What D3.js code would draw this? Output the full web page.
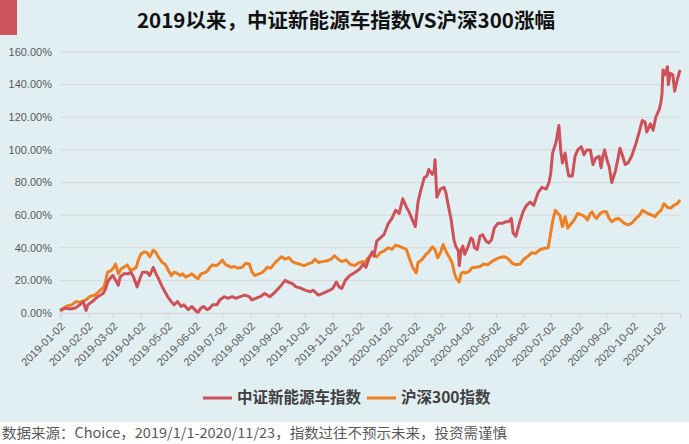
<!DOCTYPE html>
<html>
<head>
<meta charset="utf-8">
<script src="https://cdn.jsdelivr.net/npm/d3@7"></script>
<style>
  body { margin: 0; background: #fff; }
  text { font-family: "Liberation Sans", "Noto Sans CJK SC", sans-serif; }
  .cjk { font-family: "Noto Sans CJK SC", sans-serif; }
</style>
</head>
<body>
<div id="chart"></div>
<script>
var width = 689, height = 444;

var title = "2019以来，中证新能源车指数VS沪深300涨幅";
var source = "数据来源：Choice，2019/1/1-2020/11/23，指数过往不预示未来，投资需谨慎";
var seriesNames = ["中证新能源车指数", "沪深300指数"];
var colors = ["#cd5158", "#ef7f23"];

var yTicks = [0, 20, 40, 60, 80, 100, 120, 140, 160];
var xTickLabels = ["2019-01-02","2019-02-02","2019-03-02","2019-04-02","2019-05-02","2019-06-02",
  "2019-07-02","2019-08-02","2019-09-02","2019-10-02","2019-11-02","2019-12-02",
  "2020-01-02","2020-02-02","2020-03-02","2020-04-02","2020-05-02","2020-06-02",
  "2020-07-02","2020-08-02","2020-09-02","2020-10-02","2020-11-02"];

// 中证新能源车指数 (%)
var nevDates = ["2019-01-02","2019-01-08","2019-01-13","2019-01-19","2019-01-24","2019-01-28","2019-01-31","2019-02-02",
  "2019-02-07","2019-02-13","2019-02-19","2019-02-22","2019-02-24","2019-02-28","2019-03-02","2019-03-05","2019-03-08",
  "2019-03-10","2019-03-14","2019-03-19","2019-03-22","2019-03-25","2019-03-29","2019-04-01","2019-04-04","2019-04-09",
  "2019-04-12","2019-04-16","2019-04-19","2019-04-21","2019-04-26","2019-04-29","2019-05-02","2019-05-06","2019-05-09",
  "2019-05-13","2019-05-17","2019-05-20","2019-05-25","2019-05-29","2019-06-03","2019-06-05","2019-06-08","2019-06-11",
  "2019-06-15","2019-06-18","2019-06-21","2019-06-26","2019-06-29","2019-07-04","2019-07-08","2019-07-13","2019-07-17",
  "2019-07-22","2019-07-27","2019-08-01","2019-08-04","2019-08-08","2019-08-13","2019-08-18","2019-08-24","2019-08-30",
  "2019-09-04","2019-09-10","2019-09-13","2019-09-18","2019-09-22","2019-09-26","2019-10-02","2019-10-08","2019-10-11",
  "2019-10-17","2019-10-22","2019-10-28","2019-11-02","2019-11-06","2019-11-09","2019-11-12","2019-11-16","2019-11-21",
  "2019-11-27","2019-12-02","2019-12-06","2019-12-09","2019-12-12","2019-12-16","2019-12-18","2019-12-21","2019-12-25",
  "2019-12-29","2020-01-03","2020-01-07","2020-01-11","2020-01-15","2020-01-19","2020-01-23","2020-01-26","2020-01-29",
  "2020-02-02","2020-02-05","2020-02-08","2020-02-12","2020-02-15","2020-02-17","2020-02-21","2020-02-23","2020-02-24",
  "2020-02-26","2020-03-01","2020-03-05","2020-03-07","2020-03-09","2020-03-13","2020-03-16","2020-03-18","2020-03-21",
  "2020-03-22","2020-03-24","2020-03-26","2020-03-28","2020-04-01","2020-04-04","2020-04-06","2020-04-08","2020-04-11",
  "2020-04-14","2020-04-17","2020-04-21","2020-04-24","2020-04-27","2020-04-30","2020-05-04","2020-05-09","2020-05-13",
  "2020-05-16","2020-05-19","2020-05-21","2020-05-24","2020-05-28","2020-06-01","2020-06-05","2020-06-09","2020-06-13",
  "2020-06-18","2020-06-22","2020-06-27","2020-06-30","2020-07-02","2020-07-04","2020-07-08","2020-07-11","2020-07-13",
  "2020-07-15","2020-07-18","2020-07-20","2020-07-22","2020-07-26","2020-07-29","2020-08-01","2020-08-05","2020-08-08",
  "2020-08-11","2020-08-15","2020-08-18","2020-08-21","2020-08-25","2020-08-27","2020-08-29","2020-08-31","2020-09-03",
  "2020-09-05","2020-09-08","2020-09-12","2020-09-15","2020-09-17","2020-09-19","2020-09-23","2020-09-26","2020-09-30",
  "2020-10-05","2020-10-09","2020-10-12","2020-10-15","2020-10-17","2020-10-21","2020-10-24","2020-10-27","2020-10-31",
  "2020-11-02","2020-11-03","2020-11-04","2020-11-06","2020-11-09","2020-11-10","2020-11-12","2020-11-15","2020-11-17",
  "2020-11-20","2020-11-23"];
var nevValues = [1.5,3,2.5,3,5,7,1.5,5,
  7,10,12,15,19,22,23,20,17,
  22,24,24,25,22,16,21,25,25,
  23,28,24,22,16,13,10,7,5,
  7,4,5,2,4,1,0.5,3,4,
  2,3,5,5,8,10,9,10,9,
  10,11,10,8,9,10,12,10,13,
  16,20,19,18,16,15.5,14,13,14,
  11,12,13.5,15,19,16,15,20,23,
  25,27,30,28,33,37.5,35,44,46,
  48,55,58,63,61,70,65,62,58,
  53,68,75,83,84,88,85,87,94,
  71,76,77,74,68,57,45,41,38,
  29,39,41,36,41,46,45,40,39,
  47,48,44,43,45,52,55,55,56,
  56,58,49,47,55,62,66,68,66,
  74,77,76,80,86,98,105,115,100,
  92,98,90,84,84,96,100,102,97,
  100,100,91,95,96,89,96,100,93,
  90,80,87,95,101,98,91,92,96,
  104,112,118,117,111,116,112,120,125,
  130,135,149,146,151,140,147,146,136,
  143,149];

// 沪深300指数 (%)
var hsDates = ["2019-01-02","2019-01-06","2019-01-11","2019-01-15","2019-01-20","2019-01-24","2019-01-29","2019-02-01",
  "2019-02-04","2019-02-10","2019-02-16","2019-02-20","2019-02-22","2019-02-24","2019-02-28","2019-03-03","2019-03-05",
  "2019-03-08","2019-03-11","2019-03-14","2019-03-18","2019-03-21","2019-03-24","2019-03-28","2019-03-30","2019-04-02",
  "2019-04-06","2019-04-09","2019-04-12","2019-04-16","2019-04-19","2019-04-22","2019-04-26","2019-04-29","2019-05-02",
  "2019-05-06","2019-05-09","2019-05-12","2019-05-16","2019-05-19","2019-05-22","2019-05-26","2019-05-29","2019-06-02",
  "2019-06-05","2019-06-08","2019-06-11","2019-06-15","2019-06-18","2019-06-21","2019-06-25","2019-06-28","2019-07-02",
  "2019-07-05","2019-07-08","2019-07-12","2019-07-15","2019-07-19","2019-07-24","2019-07-28","2019-08-01","2019-08-04",
  "2019-08-07","2019-08-12","2019-08-16","2019-08-21","2019-08-25","2019-08-30","2019-09-03","2019-09-06","2019-09-10",
  "2019-09-14","2019-09-18","2019-09-22","2019-09-26","2019-10-01","2019-10-05","2019-10-10","2019-10-13","2019-10-17",
  "2019-10-21","2019-10-27","2019-10-31","2019-11-04","2019-11-08","2019-11-12","2019-11-17","2019-11-21","2019-11-26",
  "2019-11-30","2019-12-05","2019-12-08","2019-12-11","2019-12-15","2019-12-18","2019-12-21","2019-12-25","2019-12-29",
  "2020-01-03","2020-01-07","2020-01-11","2020-01-15","2020-01-19","2020-01-23","2020-01-27","2020-01-30","2020-02-03",
  "2020-02-05","2020-02-09","2020-02-14","2020-02-17","2020-02-21","2020-02-24","2020-02-27","2020-03-01","2020-03-04",
  "2020-03-07","2020-03-11","2020-03-14","2020-03-17","2020-03-19","2020-03-22","2020-03-24","2020-03-26","2020-03-29",
  "2020-04-02","2020-04-05","2020-04-10","2020-04-14","2020-04-18","2020-04-23","2020-04-27","2020-05-02","2020-05-06",
  "2020-05-11","2020-05-15","2020-05-20","2020-05-24","2020-05-29","2020-06-02","2020-06-07","2020-06-11","2020-06-15",
  "2020-06-20","2020-06-24","2020-06-29","2020-07-01","2020-07-04","2020-07-07","2020-07-10","2020-07-12","2020-07-15",
  "2020-07-18","2020-07-21","2020-07-25","2020-07-28","2020-08-01","2020-08-06","2020-08-09","2020-08-12","2020-08-15",
  "2020-08-17","2020-08-20","2020-08-22","2020-08-26","2020-08-29","2020-09-02","2020-09-05","2020-09-08","2020-09-12",
  "2020-09-15","2020-09-18","2020-09-22","2020-09-26","2020-09-30","2020-10-05","2020-10-09","2020-10-12","2020-10-15",
  "2020-10-18","2020-10-23","2020-10-26","2020-10-29","2020-11-02","2020-11-05","2020-11-07","2020-11-10","2020-11-13",
  "2020-11-16","2020-11-20","2020-11-23"];
var hsValues = [1.5,3,4.5,5,7,6.5,7.5,8.5,
  10,11,14,16,20,25,26,28,30,
  24,27,28,29.5,26.5,26.5,28,32,36,
  37.5,37,34.5,38.5,37,34,31,30,27,
  23,25,24.5,23,24,22,23,24,22,
  21,24,24.5,25.5,28,29.5,29,30,32.5,
  30,29,28,28.5,27.5,28,30.5,30,25,
  23,24,25,28,27.5,31,33,34.5,33,
  34,31.5,30.5,30,29,30,31,33,31,
  31.5,32,33,35,33,31.5,32.5,30,29,
  30.5,31.5,31,33.5,36,35,34.5,37,38,
  40,39,41.5,41,40,39,32.6,28,24.5,
  31,32.5,36,37.5,40.6,38.8,33.9,37,42,
  38,34,30.8,23.5,21,19,24,25,24.5,
  25.5,27.7,28,28.5,30,29.6,31.5,33,34,
  34.5,33.5,30.5,29.6,30,33,35,37,36.5,
  38.8,39.5,40,46,56,63,61,60,53,
  59,52,55,57,61,60,59,57,61,
  62,59,58,61,62,62,58,56,57.5,
  58,57,55,54,55,58,60,63,62,
  61,60,59,61,63,67,66,64.5,64.4,
  66,67,69.4];

var parse = d3.timeParse("%Y-%m-%d");
var series = [
  { name: seriesNames[0], color: colors[0], values: nevDates.map(function(d, i) { return { date: parse(d), v: nevValues[i] }; }) },
  { name: seriesNames[1], color: colors[1], values: hsDates.map(function(d, i) { return { date: parse(d), v: hsValues[i] }; }) }
];

var svg = d3.select("#chart").append("svg")
  .attr("width", width)
  .attr("height", height);

// backgrounds
svg.append("rect").attr("width", width).attr("height", 422).attr("fill", "#e1eff2");
svg.append("rect").attr("x", 0).attr("y", 0).attr("width", 17).attr("height", 35).attr("fill", "#cf535b");

svg.append("text")
  .attr("class", "cjk")
  .attr("x", 346).attr("y", 28)
  .attr("text-anchor", "middle")
  .attr("font-size", 20).attr("font-weight", "bold")
  .attr("fill", "#111")
  .attr("textLength", 418).attr("lengthAdjust", "spacingAndGlyphs")
  .text(title);

var x = d3.scaleTime()
  .domain([parse("2019-01-02"), parse("2020-11-23")])
  .range([60, 680]);
var y = d3.scaleLinear().domain([0, 160]).range([313, 52]);

// grid
svg.append("g").selectAll("line").data(yTicks.slice(1)).enter().append("line")
  .attr("x1", 60).attr("x2", 680)
  .attr("y1", function(d) { return y(d); }).attr("y2", function(d) { return y(d); })
  .attr("stroke", "#d6d6d6").attr("stroke-width", 1);

// y labels
svg.append("g").selectAll("text").data(yTicks).enter().append("text")
  .attr("x", 52).attr("y", function(d) { return y(d); })
  .attr("dy", "0.35em")
  .attr("text-anchor", "end")
  .attr("font-size", 11).attr("fill", "#595959")
  .text(function(d) { return d.toFixed(2) + "%"; });

// x axis
var xAxis = d3.axisBottom(x)
  .tickValues(xTickLabels.map(parse))
  .tickSize(5)
  .tickFormat(d3.timeFormat("%Y-%m-%d"));

var gx = svg.append("g").attr("transform", "translate(0,313)").call(xAxis);
gx.select(".domain").attr("stroke", "#d6d6d6").attr("stroke-width", 1.5);
gx.selectAll(".tick line").attr("stroke", "#d6d6d6");
gx.selectAll(".tick text")
  .attr("font-size", 11).attr("fill", "#595959")
  .attr("font-family", "Liberation Sans, sans-serif")
  .attr("text-anchor", "end")
  .attr("dy", 0).attr("y", 0)
  .attr("transform", "translate(5,14) rotate(-45)");

// lines
var line = d3.line()
  .x(function(d) { return x(d.date); })
  .y(function(d) { return y(d.v); });

svg.append("g").selectAll("path").data(series.slice().reverse()).enter().append("path")
  .attr("d", function(d) { return line(d.values); })
  .attr("fill", "none")
  .attr("stroke", function(d) { return d.color; })
  .attr("stroke-width", 3)
  .attr("stroke-linejoin", "round");

// legend
var legendX = [203, 367];
var leg = svg.append("g").selectAll("g").data(series).enter().append("g")
  .attr("transform", function(d, i) { return "translate(" + legendX[i] + ",398)"; });
leg.append("line").attr("x1", 0).attr("x2", 29)
  .attr("stroke", function(d) { return d.color; }).attr("stroke-width", 3);
leg.append("text")
  .attr("class", "cjk")
  .attr("x", 34).attr("dy", "0.35em")
  .attr("font-size", 15.5).attr("font-weight", "bold").attr("fill", "#404040")
  .text(function(d) { return d.name; });

svg.append("text")
  .attr("class", "cjk")
  .attr("x", 2).attr("y", 438)
  .attr("font-size", 14).attr("fill", "#595959")
  .attr("textLength", 505).attr("lengthAdjust", "spacingAndGlyphs")
  .text(source);
</script>
</body>
</html>
